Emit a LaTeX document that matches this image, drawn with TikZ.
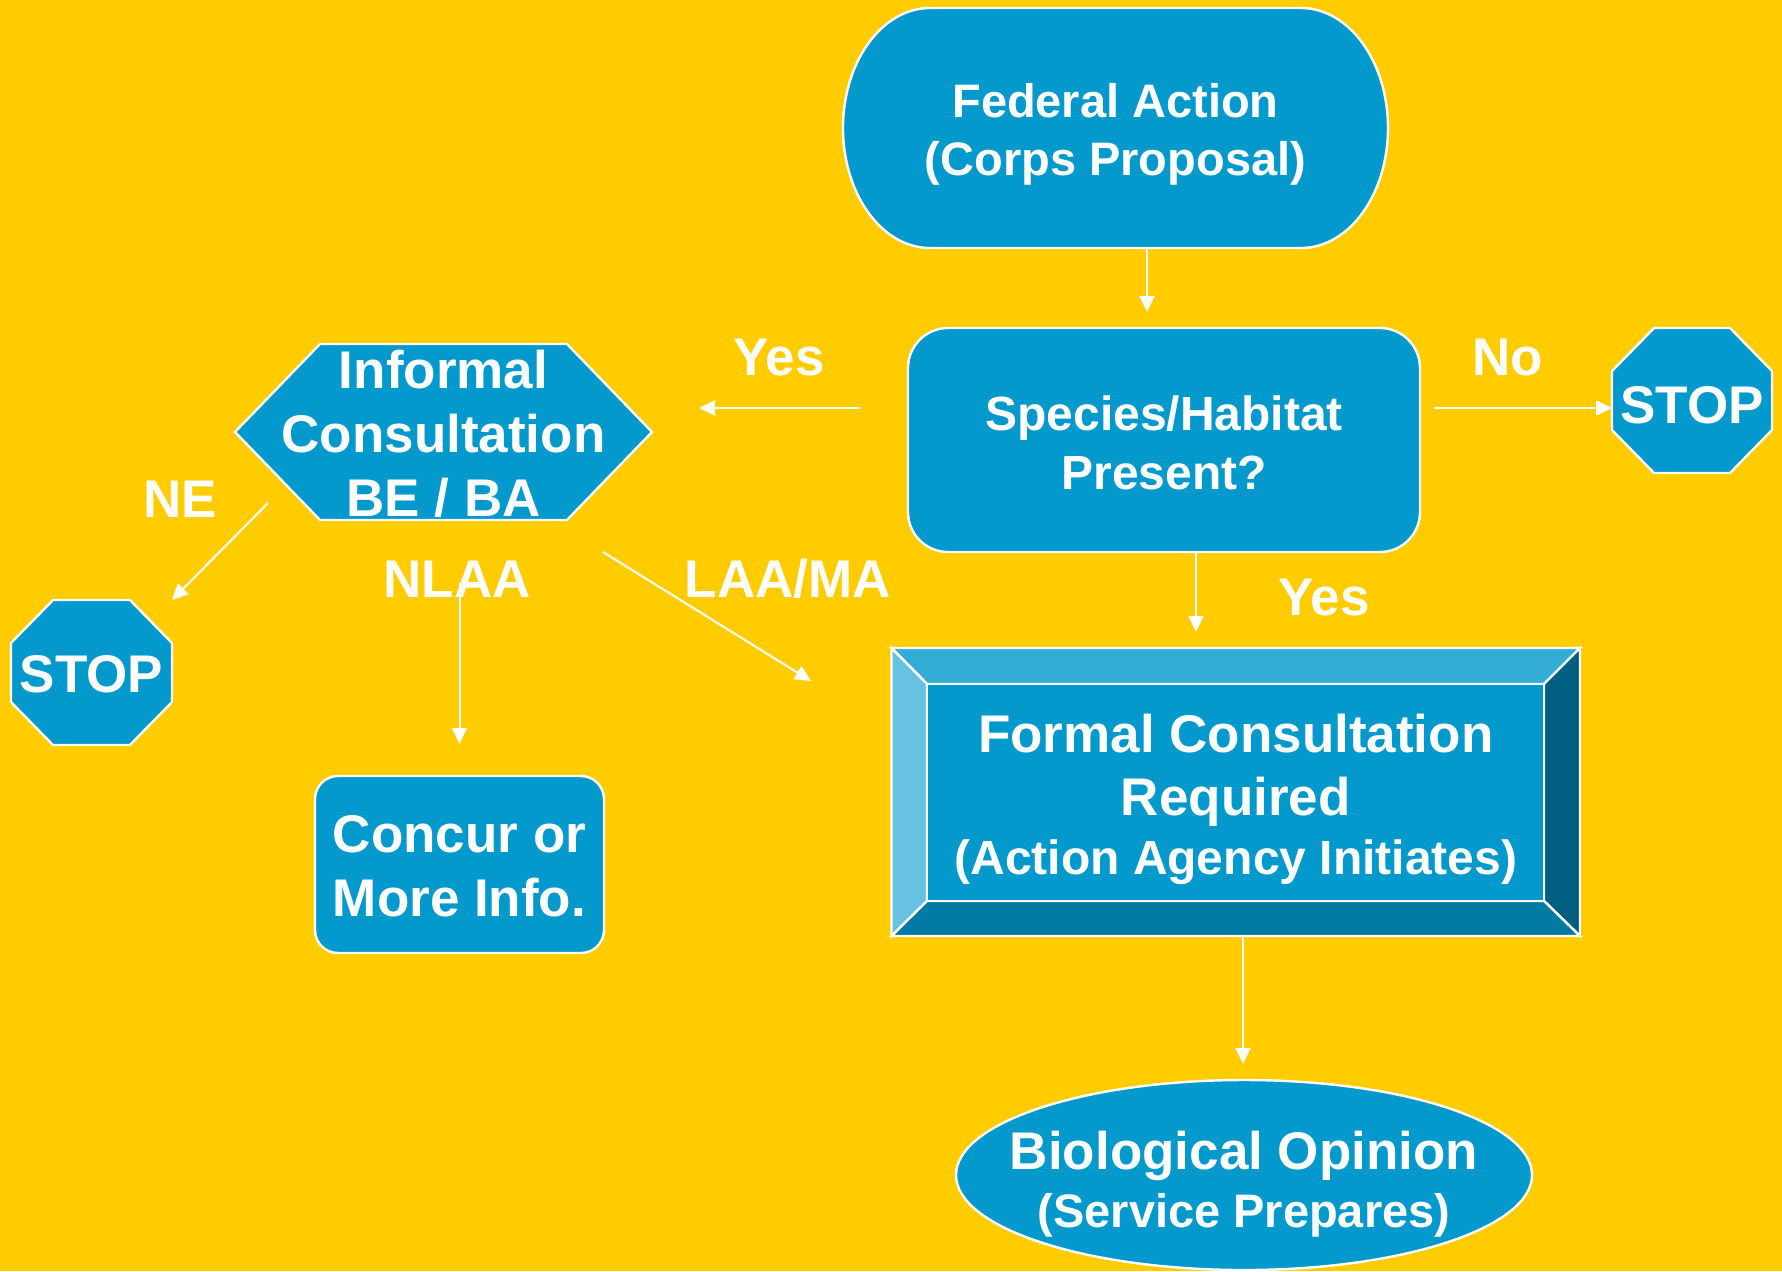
\documentclass[tikz,border=0pt]{standalone}
\usepackage{fontspec}
\setmainfont{Liberation Sans}
\usetikzlibrary{arrows.meta,calc}
\pgfdeclarelayer{back}
\pgfsetlayers{back,main}
\definecolor{bgyellow}{HTML}{FFCC00}
\definecolor{boxblue}{HTML}{0399CC}
\definecolor{bevtop}{HTML}{33ADD6}
\definecolor{bevleft}{HTML}{66C2E0}
\definecolor{bevright}{HTML}{005F80}
\definecolor{bevbottom}{HTML}{007AA3}
\newcommand{\mltext}[2]{\raisebox{#1}[0pt][0pt]{\begin{tabular}[t]{@{}c@{}}#2\end{tabular}}}
\newcommand{\fbig}{\fontsize{26.5}{32}\selectfont\bfseries}
\newcommand{\fmid}{\fontsize{24}{29}\selectfont\bfseries}
\newcommand{\fsmall}{\fontsize{23.5}{29}\selectfont\bfseries}
\tikzset{
  shapeline/.style={draw=white,line width=1.2pt,fill=boxblue,line join=miter},
  holder/.style={rectangle,inner sep=0pt,outer sep=0pt,text=white,font=\fbig},
  flag/.style={anchor=base,text=white,font=\fbig,inner sep=0pt},
  conn/.style={draw=white,line width=1pt,-{Triangle[length=8pt,width=7.5pt,fill=white]}}
}
\begin{document}
\begin{tikzpicture}[x=0.5pt,y=-0.5pt]
\useasboundingbox (0,0) rectangle (1782,1271);

\node[holder,font=\fsmall,minimum width=272.5pt,minimum height=120pt] (fed) at (1115.5,128)
  {\mltext{5.5pt}{Federal Action\\(Corps Proposal)}};
\node[holder,font=\fontsize{24}{29.5}\selectfont\bfseries,minimum width=256pt,minimum height=112pt] (spec) at (1164,440)
  {\mltext{5pt}{Species/Habitat\\Present?}};
\node[holder,minimum width=80pt,minimum height=72.5pt] (stopr) at (1692,400.5)
  {\mltext{-11.25pt}{STOP}};
\node[holder,minimum width=208.5pt,minimum height=88pt] (hex) at (443.5,432)
  {\mltext{22pt}{Informal\\Consultation\\BE / BA}};
\node[holder,minimum width=80.5pt,minimum height=72.5pt] (stopl) at (91.5,672.5)
  {\mltext{-9.75pt}{STOP}};
\node[holder,minimum width=144.5pt,minimum height=88.5pt] (concur) at (459.5,864.5)
  {\mltext{6.25pt}{Concur or\\More Info.}};
\node[holder,font=\fontsize{26.5}{31.5}\selectfont\bfseries,minimum width=344.25pt,minimum height=144pt] (formal) at (1235.75,792)
  {\mltext{20pt}{Formal Consultation\\Required\\[-2pt]\fontsize{24}{29}\selectfont(Action Agency Initiates)}};
\node[holder,font=\fontsize{26.5}{29}\selectfont\bfseries,minimum width=288pt,minimum height=95pt] (bio) at (1244,1175)
  {\mltext{3pt}{Biological Opinion\\\fontsize{23.5}{29}\selectfont(Service Prepares)}};

\node[flag] (l1) at (779,375) {Yes};
\node[flag] (l2) at (1508,375) {No};
\node[flag] (l3) at (180,517) {NE};
\node[flag] (l4) at (457,597) {NLAA};
\node[flag] (l5) at (788,597) {LAA/MA};
\node[flag] (l6) at (1324,615) {Yes};

\begin{pgfonlayer}{back}
\fill[bgyellow] (0,0) rectangle (1782,1271);
% Federal action: elliptical corners
\path[shapeline] (930,8) -- (1301,8) arc[start angle=270,end angle=360,x radius=87,y radius=120]
  arc[start angle=0,end angle=90,x radius=87,y radius=120] -- (930,248)
  arc[start angle=90,end angle=180,x radius=87,y radius=120]
  arc[start angle=180,end angle=270,x radius=87,y radius=120] -- cycle;
\draw[shapeline,rounded corners=20pt] (908,328) rectangle (1420,552);
\draw[shapeline] (1654,328) -- (1730,328) -- (1772,371) -- (1772,430) -- (1730,473) -- (1654,473) -- (1612,430) -- (1612,371) -- cycle;
\draw[shapeline] (320,344) -- (567,344) -- (652,432) -- (567,520) -- (320,520) -- (235,432) -- cycle;
\draw[shapeline] (53,600) -- (130,600) -- (172,643) -- (172,702) -- (130,745) -- (53,745) -- (11,702) -- (11,643) -- cycle;
\draw[shapeline,rounded corners=11.5pt] (315,776) rectangle (604,953);
% Bevelled box
\draw[shapeline,fill=bevtop] (891.5,648) -- (1580,648) -- (1544,684) -- (927,684) -- cycle;
\draw[shapeline,fill=bevleft] (891.5,648) -- (927,684) -- (927,901) -- (891.5,936) -- cycle;
\draw[shapeline,fill=bevright] (1580,648) -- (1580,936) -- (1544,901) -- (1544,684) -- cycle;
\draw[shapeline,fill=bevbottom] (891.5,936) -- (927,901) -- (1544,901) -- (1580,936) -- cycle;
\draw[shapeline] (927,684) rectangle (1544,901);
\draw[shapeline] (1244,1175) ellipse [x radius=288,y radius=95];
\end{pgfonlayer}

\draw[conn] ($(fed.south)+(31.5,0)$) -- ($(spec.north)+(-17,-16)$);
\draw[conn] ($(spec.west)+(-48,-32)$) -- ($(hex.east)+(47,-24)$);
\draw[conn] ($(spec.east)+(14,-32)$) -- ($(stopr.west)+(0,7.5)$);
\draw[conn] ($(spec.south)+(32,0)$) -- ($(formal.north)+(-39.75,-16)$);
\draw[conn] ($(formal.south)+(7.25,0)$) -- ($(bio.north)+(-1,-16)$);
\draw[conn] ($(hex.west)+(33,71)$) -- (stopl.north east);
\draw[conn] ($(concur.north)+(0,-193)$) -- ($(concur.north)+(0,-32)$);
\draw[conn] ($(hex.south east)+(-49,32)$) -- ($(formal.west)+(-80.5,-111)$);
\end{tikzpicture}
\end{document}
